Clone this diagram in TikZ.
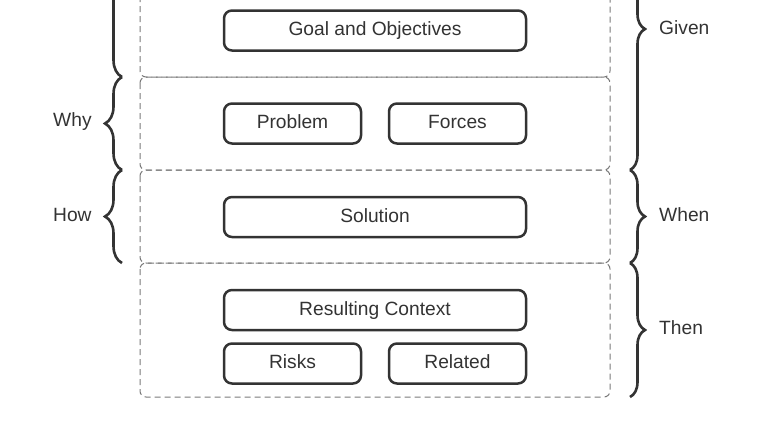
\documentclass[tikz,border=0pt]{standalone}
\usepackage{fontspec}
\setmainfont{Liberation Sans}
\usetikzlibrary{decorations.pathreplacing}
\definecolor{ink}{HTML}{333333}
\definecolor{frame}{HTML}{7A7A7A}
\begin{document}
\begin{tikzpicture}[x=1pt,y=-1pt,
  card/.style={draw=ink,line width=2.5pt,rounded corners=8pt,minimum height=40pt,
    inner sep=0pt,text=ink,text height=13.5pt,text depth=3pt,
    font=\fontsize{19.2}{22}\selectfont},
  section/.style={draw=frame,line width=1pt,dash pattern=on 6pt off 4pt,rounded corners=6pt},
  lbrace/.style={draw=ink,line width=2.6pt,decorate,decoration={brace,amplitude=17pt}},
  rbrace/.style={draw=ink,line width=2.6pt,decorate,decoration={brace,amplitude=15pt}},
  tag/.style={text=ink,font=\fontsize{19.2}{22}\selectfont,anchor=west,inner sep=0pt}]
\useasboundingbox (0,0) rectangle (768,432);
\clip (0,0) rectangle (768,432);

% dashed sections
\draw[section] (140,-100) rectangle (610,77);
\draw[section] (140,77) rectangle (610,170);
\draw[section] (140,170) rectangle (610,263);
\draw[section] (140,263) rectangle (610,397);

% content cards
\node[card,minimum width=302pt] (goal) at (375,30.5) {Goal and Objectives};
\node[card,minimum width=137pt] (problem) at (292.5,123.5) {Problem};
\node[card,minimum width=137pt] (forces) at (457.5,123.5) {Forces};
\node[card,minimum width=302pt] (solution) at (375,217) {Solution};
\node[card,minimum width=302pt] (result) at (375,310) {Resulting Context};
\node[card,minimum width=137pt] (risks) at (292.5,363.5) {Risks};
\node[card,minimum width=137pt] (related) at (457.5,363.5) {Related};

% left braces
\coordinate (l0a) at (122,-200); \coordinate (l0b) at (122,77);
\coordinate (l1a) at (122,77);   \coordinate (l1b) at (122,170);
\coordinate (l2a) at (122,170);  \coordinate (l2b) at (122,263);
\draw[lbrace] (l0b) -- (l0a);
\draw[lbrace] (l1b) -- (l1a);
\draw[lbrace] (l2b) -- (l2a);
\node[tag] (why) at (53,122) {Why};
\node[tag] (how) at (53,215) {How};

% right braces
\coordinate (r0a) at (630,-112); \coordinate (r0b) at (630,170);
\coordinate (r1a) at (630,170);  \coordinate (r1b) at (630,263);
\coordinate (r2a) at (630,263);  \coordinate (r2b) at (630,397);
\draw[rbrace] (r0a) -- (r0b);
\draw[rbrace] (r1a) -- (r1b);
\draw[rbrace] (r2a) -- (r2b);
\node[tag] (given) at (659,28) {Given};
\node[tag] (when) at (659,215) {When};
\node[tag] (then) at (659,328) {Then};
\end{tikzpicture}
\end{document}
